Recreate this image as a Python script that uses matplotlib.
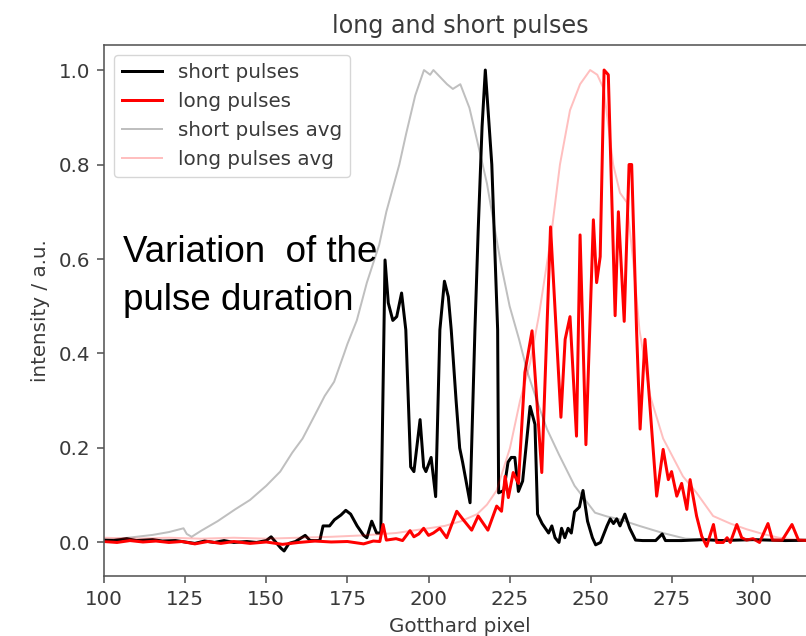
import matplotlib
matplotlib.use("Agg")
import matplotlib.pyplot as plt
import numpy as np

# Pulsos cortos (linea negra): pixel del Gotthard e intensidad normalizada
short_x = [100, 103, 107, 110, 115, 118, 122, 126, 128, 131, 134, 137, 140, 144, 147, 150,
           151.5, 153, 154.5, 155.5, 157, 159, 162, 163.5, 166.5, 167.5, 169.5, 171, 173, 174.5,
           176, 178, 180, 181, 182.5, 184, 185.3, 186.6, 187.6, 189, 190.2, 191.7, 193, 194.5,
           195.5, 197.4, 198.5, 199.2, 200.8, 202.2, 203.5, 204.9, 206.1, 207, 208.5, 209.6,
           210.5, 212.8, 214.3, 215.3, 216.5, 217.5, 219.5, 221.3, 221.6, 223.2, 224.5, 225.5,
           226.6, 227.7, 229, 231.3, 232.8, 233.6, 235, 236, 237, 238, 239, 240.2, 241, 242,
           243, 244, 245, 246.5, 247.6, 249, 250.5, 251.5, 253, 255, 256, 257, 258, 259, 260.5,
           262, 263.8, 266, 270, 272, 273, 278, 285, 290, 300, 310, 320]
short_y = [0.005, 0.004, 0.008, 0.004, 0.006, 0.003, 0.004, 0.0, -0.002, 0.003, 0.0, 0.004,
           0.0, 0.002, 0.0, 0.004, 0.012, 0.0, -0.012, -0.018, -0.002, 0.002, 0.015, 0.004,
           0.004, 0.035, 0.035, 0.048, 0.058, 0.068, 0.06, 0.035, 0.015, 0.01, 0.045, 0.02,
           0.02, 0.598, 0.507, 0.47, 0.478, 0.528, 0.45, 0.16, 0.15, 0.26, 0.16, 0.15, 0.18,
           0.097, 0.45, 0.553, 0.52, 0.45, 0.3, 0.2, 0.17, 0.084, 0.45, 0.66, 0.88, 1.0, 0.8,
           0.45, 0.105, 0.11, 0.17, 0.18, 0.18, 0.108, 0.13, 0.288, 0.25, 0.06, 0.04, 0.03,
           0.02, 0.035, 0.01, 0.0, 0.03, 0.01, 0.03, 0.02, 0.065, 0.075, 0.11, 0.045, 0.01,
           -0.005, 0.0, 0.035, 0.05, 0.04, 0.05, 0.035, 0.06, 0.03, 0.005, 0.004, 0.004, 0.018,
           0.004, 0.004, 0.006, 0.004, 0.006, 0.004, 0.005]

# Pulsos largos (linea roja)
long_x = [100, 104, 108, 112, 116, 120, 124, 128, 132, 136, 140, 145, 150, 155, 160, 165,
          170, 175, 180, 183, 185, 186, 187, 190, 192, 194.3, 195.5, 197, 198.5, 200, 201.5,
          203.5, 205.6, 208.7, 210.6, 213.3, 215.3, 218.3, 221, 222.5, 223.6, 224.6, 226.1,
          227.7, 229.7, 231.9, 234.9, 237.6, 240.8, 242.1, 243.6, 245.6, 246.7, 248.5, 250.8,
          251.8, 252.9, 254.1, 255.4, 257.5, 258.5, 260.3, 261.8, 262.6, 264.1, 265.2, 266.7,
          270.3, 272.3, 273.9, 274.9, 276.5, 278, 279.6, 280.6, 282.6, 284.2, 285.7, 287.8,
          288.8, 290.8, 292, 293, 295, 296.5, 298, 300, 302, 304.6, 306, 309, 312, 314, 317, 320]
long_y = [0.002, 0.0, 0.004, 0.001, 0.003, 0.0, 0.002, -0.003, 0.002, -0.002, 0.002, -0.002,
          0.001, -0.004, 0.0, 0.003, 0.001, 0.002, -0.003, 0.003, 0.002, 0.038, 0.005, 0.008,
          0.004, 0.025, 0.012, 0.018, 0.03, 0.015, 0.02, 0.03, 0.01, 0.066, 0.049, 0.026,
          0.056, 0.026, 0.077, 0.066, 0.14, 0.095, 0.148, 0.125, 0.36, 0.448, 0.148, 0.668,
          0.265, 0.43, 0.478, 0.225, 0.651, 0.207, 0.683, 0.55, 0.605, 1.0, 0.99, 0.48, 0.70,
          0.468, 0.80, 0.80, 0.45, 0.24, 0.43, 0.098, 0.197, 0.133, 0.15, 0.098, 0.125, 0.07,
          0.133, 0.056, 0.013, -0.008, 0.038, 0.0, 0.0, 0.01, 0.0, 0.038, 0.01, 0.005, 0.008,
          0.0, 0.04, 0.005, 0.005, 0.038, 0.005, 0.004, 0.005]

# Promedio de los pulsos cortos (gris)
short_avg_x = [100, 105, 110, 115, 120, 124.5, 125.5, 127, 130, 135, 140.4, 145, 150, 154.3,
               158, 161.2, 165, 168, 170.9, 174, 175, 177.9, 181, 184.8, 187, 189, 191, 193.1,
               195.9, 198.6, 200.5, 201.5, 202.9, 205.7, 207.5, 209.8, 212.6, 215, 218, 220,
               222.3, 225, 227.9, 230.5, 233.4, 236.5, 240.2, 245, 251.3, 255, 258.3, 265,
               272.2, 279.2, 290, 300, 320]
short_avg_y = [0.005, 0.008, 0.012, 0.016, 0.022, 0.03, 0.018, 0.012, 0.025, 0.045, 0.07,
               0.09, 0.12, 0.15, 0.19, 0.22, 0.27, 0.31, 0.34, 0.40, 0.42, 0.47, 0.55, 0.63,
               0.70, 0.75, 0.80, 0.865, 0.946, 1.0, 0.99, 1.0, 0.99, 0.97, 0.96, 0.97, 0.92,
               0.85, 0.76, 0.68, 0.59, 0.50, 0.43, 0.36, 0.30, 0.24, 0.186, 0.12, 0.063, 0.055,
               0.05, 0.035, 0.02, 0.008, 0.005, 0.005, 0.004]

# Promedio de los pulsos largos (rosa)
long_avg_x = [100, 110, 120, 130, 140, 150, 160, 170, 180, 190, 200, 205, 210, 215, 218, 221,
              225.1, 228.2, 231.3, 234, 237.6, 240.5, 243.6, 246.7, 249.8, 252, 254, 256.9,
              259, 261.1, 263, 265, 268.3, 272.3, 278.4, 282.6, 287.7, 293, 298, 303, 308,
              313, 320]
long_avg_y = [0.01, 0.008, 0.01, 0.008, 0.01, 0.008, 0.01, 0.012, 0.015, 0.02, 0.03, 0.035,
              0.045, 0.06, 0.08, 0.11, 0.2, 0.30, 0.38, 0.48, 0.64, 0.8, 0.915, 0.97, 1.0,
              0.99, 0.96, 0.80, 0.74, 0.72, 0.6, 0.45, 0.31, 0.22, 0.14, 0.105, 0.056, 0.04,
              0.028, 0.018, 0.01, 0.006, 0.005]

s = 1.435  # factor de escala de la figura
plt.rcParams['font.family'] = ['DejaVu Sans']
txt = '#3a3a3a'

fig = plt.figure(figsize=(8.06, 6.36), dpi=100)
ax = fig.add_axes([104 / 806, 60 / 636, 712 / 806, 531 / 636])

ax.plot(short_x, short_y, color='black', lw=1.5 * s, label='short pulses')
ax.plot(long_x, long_y, color='red', lw=1.5 * s, label='long pulses')
ax.plot(short_avg_x, short_avg_y, color='black', alpha=0.25, lw=1.0 * s, label='short pulses avg')
ax.plot(long_avg_x, long_avg_y, color='red', alpha=0.25, lw=1.0 * s, label='long pulses avg')

ax.set_xlim(100, 319.4)
ax.set_ylim(-0.071, 1.053)
ax.set_xticks([100, 125, 150, 175, 200, 225, 250, 275, 300])
ax.set_yticks([0.0, 0.2, 0.4, 0.6, 0.8, 1.0])

ax.set_title('long and short pulses', fontsize=12 * s, color=txt, pad=6 * s)
ax.set_xlabel('Gotthard pixel', fontsize=10 * s, color=txt, labelpad=4 * s)
ax.set_ylabel('intensity / a.u.', fontsize=10 * s, color=txt, labelpad=4 * s)
ax.tick_params(labelsize=10 * s, labelcolor=txt, length=3.5 * s, width=0.8 * s,
               pad=3.5 * s, colors='#555555')
for sp in ax.spines.values():
    sp.set_linewidth(0.8 * s)
    sp.set_color('#555555')

leg = ax.legend(loc='upper left', fontsize=10 * s, framealpha=0.8,
                borderaxespad=0.5, handlelength=2.0)
for t in leg.get_texts():
    t.set_color(txt)

# Texto superpuesto sobre la grafica
fig.text(123 / 806, 1 - 262 / 636, 'Variation  of the', fontsize=26.5,
         family='Liberation Sans', color='black', va='baseline')
fig.text(123 / 806, 1 - 310 / 636, 'pulse duration', fontsize=26.5,
         family='Liberation Sans', color='black', va='baseline')

fig.savefig('out.png', dpi=100)
